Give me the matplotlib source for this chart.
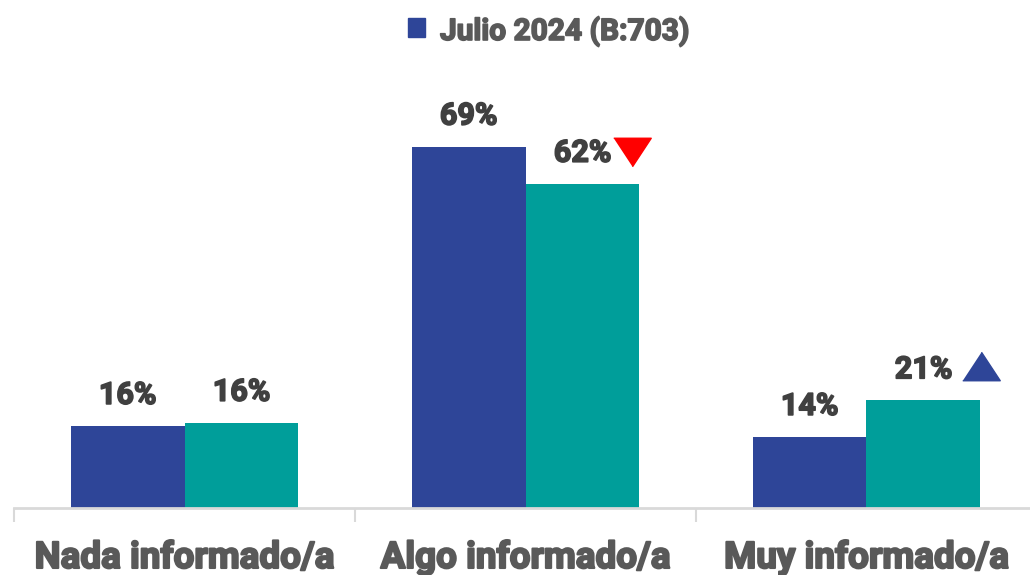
import matplotlib
matplotlib.use("Agg")
import matplotlib.pyplot as plt
from matplotlib import font_manager as fm
import matplotlib.transforms as mtrans
import matplotlib.patheffects as pe
import numpy as np

categories = ["Nada informado/a", "Algo informado/a", "Muy informado/a"]
serie_julio = [15.7, 69.1, 13.6]
serie_actual = [16.3, 62.0, 20.6]
legend_label = "Julio 2024 (B:703)"
# significance markers: (category index, direction)
sig_marks = [(1, "down"), (2, "up")]

names = {f.name for f in fm.fontManager.ttflist}
main_font = "Roboto" if "Roboto" in names else "DejaVu Sans"

BLUE = "#2E4598"
TEAL = "#009E9A"
TXT = "#595959"
VAL = "#404040"
GRID = "#D9D9D9"

fig = plt.figure(figsize=(10.30, 5.75), dpi=100)
ax = fig.add_axes([14/1030, 67/575, 1023/1030, 420/575])
x = np.arange(len(categories))
w = 0.334
b1 = ax.bar(x - w/2, serie_julio, w, color=BLUE, label=legend_label)
b2 = ax.bar(x + w/2, serie_actual, w, color=TEAL)
ax.set_xlim(-0.5, 2.5)
ax.set_ylim(0, 420/5.23)

for bars, vals in ((b1, serie_julio), (b2, serie_actual)):
    for r, v in zip(bars, vals):
        ax.annotate(f"{int(v + 0.5):d}%", (r.get_x() + r.get_width()/2, v),
                    xytext=(0, 11.5), textcoords="offset points",
                    ha="center", va="bottom", fontsize=22, fontweight="bold",
                    color=VAL, family=main_font,
                    path_effects=[pe.withStroke(linewidth=1.2, foreground=VAL)])

tri_down = [(-1, 0.76), (1, 0.76), (0, -0.76)]
tri_up = [(-1, -0.76), (1, -0.76), (0, 0.76)]
for i, d in sig_marks:
    if d == "down":
        ax.plot(i + w/2 + 0.144, serie_actual[i] + 6.1, marker=tri_down,
                markersize=27, color="#FF0000", linestyle="none")
    else:
        ax.plot(i + w/2 + 0.17, serie_actual[i] + 6.5, marker=tri_up,
                markersize=27, color=BLUE, linestyle="none")

for s in ["top", "right", "left"]:
    ax.spines[s].set_visible(False)
ax.spines["bottom"].set_color(GRID)
ax.spines["bottom"].set_linewidth(2)
ax.set_yticks([])
ax.set_xticks([-0.5, 0.5, 1.5, 2.5])
ax.set_xticklabels([])
ax.tick_params(axis="x", length=10, width=1.5, color=GRID, direction="out")

lab_tr = mtrans.blended_transform_factory(ax.transData, fig.transFigure)
for i, c in enumerate(categories):
    ax.text(i, 7/575, c, transform=lab_tr,
            ha="center", va="baseline", fontsize=26.5, fontweight="bold",
            color=TXT, family=main_font,
            path_effects=[pe.withStroke(linewidth=1.5, foreground=TXT)])

# legend
fig.patches.append(plt.Rectangle((408/1030, (575-37)/575), 17/1030, 19/575,
                                 transform=fig.transFigure, color=BLUE, figure=fig))
fig.text(440/1030, (575-40)/575, legend_label, ha="left", va="baseline",
         fontsize=21.5, fontweight="bold", color=TXT, family=main_font,
         path_effects=[pe.withStroke(linewidth=1.2, foreground=TXT)])

fig.savefig("out.png", dpi=100)
